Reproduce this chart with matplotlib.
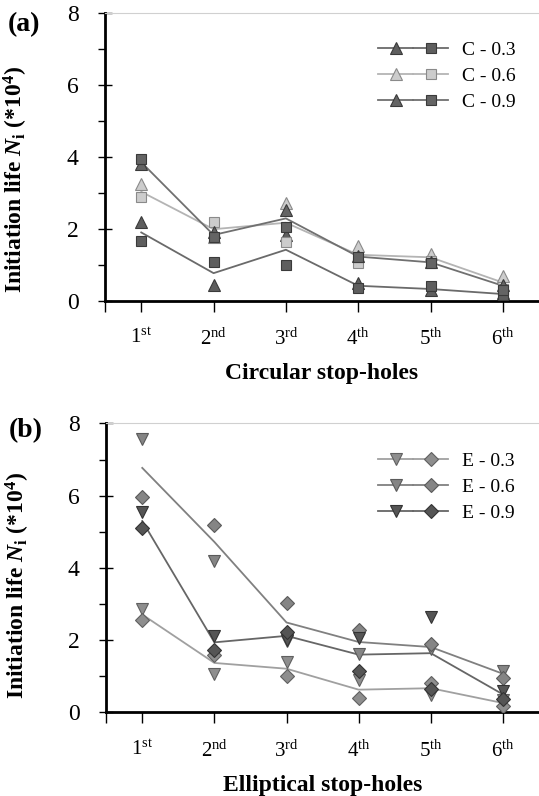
import numpy as np
import matplotlib
matplotlib.use("Agg")
from matplotlib import pyplot as plt
from matplotlib.lines import Line2D
from matplotlib.legend_handler import HandlerTuple
from matplotlib.ticker import MultipleLocator

plt.rcParams['font.family'] = ['Liberation Serif', 'DejaVu Serif']
plt.rcParams['mathtext.fontset'] = 'custom'
plt.rcParams['mathtext.rm'] = 'Liberation Serif'
plt.rcParams['mathtext.it'] = 'Liberation Serif:italic:bold'
plt.rcParams['mathtext.bf'] = 'Liberation Serif:bold'

pos = [1, 2, 3, 4, 5, 6]
ticklabels = ['1$^{\\mathrm{st}}$', '2$^{\\mathrm{nd}}$', '3$^{\\mathrm{rd}}$',
              '4$^{\\mathrm{th}}$', '5$^{\\mathrm{th}}$', '6$^{\\mathrm{th}}$']

# (a) circular stop-holes: triangle test, square test, mean line
c03_tri = [2.20, 0.44, 1.83, 0.49, 0.29, 0.21]
c03_sq = [1.67, 1.09, 1.00, 0.35, 0.40, 0.17]
c03_line = [1.90, 0.77, 1.42, 0.42, 0.33, 0.19]
c06_tri = [3.24, 1.78, 2.73, 1.53, 1.30, 0.68]
c06_sq = [2.88, 2.20, 1.63, 1.05, 1.12, 0.34]
c06_line = [3.03, 1.99, 2.17, 1.28, 1.21, 0.51]
c09_tri = [3.80, 1.92, 2.53, 1.25, 1.08, 0.44]
c09_sq = [3.93, 1.77, 2.04, 1.21, 1.06, 0.31]
c09_line = [3.85, 1.83, 2.29, 1.23, 1.07, 0.42]

# (b) elliptical stop-holes: down-triangle test, diamond test, mean line
e03_tri = [2.87, 1.06, 1.39, 0.89, 0.49, 0.35]
e03_dia = [2.55, 1.60, 1.00, 0.40, 0.81, 0.17]
e03_line = [2.71, 1.37, 1.21, 0.63, 0.67, 0.26]
e06_tri = [7.56, 4.18, 1.97, 1.62, 1.76, 1.16]
e06_dia = [5.97, 5.18, 3.03, 2.27, 1.90, 0.94]
e06_line = [6.77, 4.72, 2.49, 1.95, 1.81, 1.07]
e09_tri = [5.55, 2.12, 2.01, 2.06, 2.64, 0.58]
e09_dia = [5.11, 1.74, 2.24, 1.14, 0.65, 0.37]
e09_line = [5.30, 1.94, 2.12, 1.60, 1.64, 0.50]

fig = plt.figure(figsize=(5.39, 7.96), dpi=100)
ax1 = fig.add_axes([0.195, 0.622, 0.805, 0.362])
ax2 = fig.add_axes([0.197, 0.105, 0.803, 0.363])


def style(ax, xlabel, panel, ylab_y, panel_y):
    ax.set_xlim(0.5, 6.5)
    ax.set_ylim(0, 8)
    ax.yaxis.set_major_locator(MultipleLocator(2))
    ax.yaxis.set_minor_locator(MultipleLocator(1))
    ax.set_xticks(pos)
    ax.set_xticklabels(ticklabels, fontsize=15)
    ax.set_xticks([0.5], minor=True)
    ax.tick_params(axis='y', labelsize=17, length=10, width=1, direction='inout', pad=14)
    ax.tick_params(axis='y', which='minor', length=5, width=1, direction='out')
    ax.tick_params(axis='x', length=8, width=1, direction='out', pad=12)
    ax.tick_params(axis='x', which='minor', length=8, width=1)
    for s in ['left', 'bottom']:
        ax.spines[s].set_linewidth(2)
    ax.spines['right'].set_visible(False)
    ax.spines['top'].set_color('#d0d0d0')
    ax.spines['top'].set_linewidth(0.8)
    ax.set_xlabel(xlabel, fontsize=17, fontweight='bold')
    ax.xaxis.set_label_coords(0.5, -0.215)
    ax.set_ylabel('Initiation life $N_{\\mathbf{i}}$ (*10$^{\\mathbf{4}}$)',
                  fontsize=17, fontweight='bold')
    ax.yaxis.set_label_coords(-0.172, ylab_y)
    ax.text(-0.225, panel_y, panel, transform=ax.transAxes, fontsize=20,
            fontweight='bold', va='center', ha='left')


def series(ax, a, b, line, ma, mb, fc, ec, lc, msa, msb, label):
    ax.plot(pos, line, color=lc, lw=1.3, zorder=2)
    ax.plot(pos, a, ma, ms=msa, mfc=fc, mec=ec, mew=0.8, ls='none', zorder=3)
    ax.plot(pos, b, mb, ms=msb, mfc=fc, mec=ec, mew=0.8, ls='none', zorder=3)
    ha = Line2D([0], [0], color=lc, lw=1.3, marker=ma, ms=msa, mfc=fc, mec=ec, mew=0.8)
    hb = Line2D([0], [0], color=lc, lw=1.3, marker=mb, ms=msb, mfc=fc, mec=ec, mew=0.8)
    return (ha, hb), label


def add_legend(ax, h):
    ax.legend([x[0] for x in h], [x[1] for x in h],
              handler_map={tuple: HandlerTuple(ndivide=None, pad=0)},
              loc='upper left', bbox_to_anchor=(0.629, 0.9), frameon=False,
              fontsize=14, handlelength=3.6, handletextpad=0.7, labelspacing=0.42,
              borderpad=0, borderaxespad=0)


h = []
h.append(series(ax1, c03_tri, c03_sq, c03_line, '^', 's',
                '#5e5e5e', '#3a3a3a', '#6a6a6a', 9, 6.5, 'C - 0.3'))
h.append(series(ax1, c06_tri, c06_sq, c06_line, '^', 's',
                '#cccccc', '#8a8a8a', '#b4b4b4', 9, 6.5, 'C - 0.6'))
h.append(series(ax1, c09_tri, c09_sq, c09_line, '^', 's',
                '#646464', '#3a3a3a', '#707070', 9, 6.5, 'C - 0.9'))
add_legend(ax1, h)
style(ax1, 'Circular stop-holes', '(a)', 0.42, 0.958)

h = []
h.append(series(ax2, e03_tri, e03_dia, e03_line, 'v', 'D',
                '#8e8e8e', '#606060', '#a0a0a0', 9, 7, 'E - 0.3'))
h.append(series(ax2, e06_tri, e06_dia, e06_line, 'v', 'D',
                '#858585', '#5a5a5a', '#808080', 9, 7, 'E - 0.6'))
h.append(series(ax2, e09_tri, e09_dia, e09_line, 'v', 'D',
                '#555555', '#333333', '#666666', 9, 7, 'E - 0.9'))
add_legend(ax2, h)
style(ax2, 'Elliptical stop-holes', '(b)', 0.44, 0.976)

fig.savefig('out.png', dpi=100)
